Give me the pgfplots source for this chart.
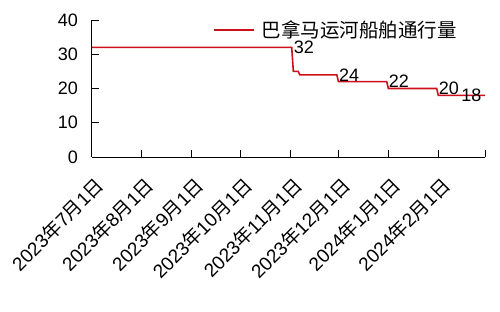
\documentclass[border=0pt]{standalone}
\usepackage{fontspec}
\setmainfont{Liberation Sans}
\newfontfamily\cjk{Noto Sans CJK SC}
\usepackage{pgfplots}
\pgfplotsset{compat=1.18}
\definecolor{canalred}{RGB}{204,16,28}
% date label: year, month, day
\newcommand{\ymd}[3]{#1{\cjk 年}#2{\cjk 月}#3{\cjk 日}}

\begin{document}
\begin{tikzpicture}
\begin{axis}[
  width=393bp, height=137bp, scale only axis,
  xmin=0, xmax=244, ymin=0, ymax=40,
  axis x line*=bottom, axis y line*=left,
  axis line style={line width=1bp, black},
  tick style={line width=1bp, black},
  tick align=inside, major tick length=7bp,
  xtick={0,31,62,92,123,153,184,215,244},
  xticklabels={\ymd{2023}{7}{1},\ymd{2023}{8}{1},\ymd{2023}{9}{1},\ymd{2023}{10}{1},
               \ymd{2023}{11}{1},\ymd{2023}{12}{1},\ymd{2024}{1}{1},\ymd{2024}{2}{1},{}},
  ytick={0,10,20,30,40},
  /pgf/number format/assume math mode=true,
  tick label style={font=\fontsize{18bp}{21bp}\selectfont},
  xticklabel style={xshift=2bp, yshift=-17bp, rotate=45, anchor=north east, inner sep=1bp,
                    font=\fontsize{19bp}{22bp}\selectfont},
  yticklabel style={inner sep=2bp, xshift=-12bp},
  legend style={at={(0.30,0.927)}, anchor=west, draw=none, fill=none,
                font=\fontsize{19.5bp}{22bp}\selectfont\cjk},
  legend image code/.code={\draw[#1] (0bp,0bp) -- (40bp,0bp); \path (45bp,0bp);},
  clip=false,
]
% daily transits allowed through the canal (step changes)
\addplot[canalred, line width=1.6bp] coordinates {
  (0,32) (124,32) (125,25) (128,25) (129,24) (152,24) (153,22)
  (183,22) (184,20) (214,20) (215,18) (244,18)
};
\addlegendentry{巴拿马运河船舶通行量}
% value labels at the change points
\addplot[draw=none, forget plot, nodes near coords,
  nodes near coords align={anchor=west},
  every node near coord/.append style={font=\fontsize{18bp}{21bp}\selectfont, inner sep=2bp, black}]
  coordinates {(124,32) (152,24) (183,22) (214,20) (228,18)};
\end{axis}
\pgfresetboundingbox
\path[use as bounding box] (-92bp,-155bp) rectangle (408bp,157bp);
\end{tikzpicture}
\end{document}
